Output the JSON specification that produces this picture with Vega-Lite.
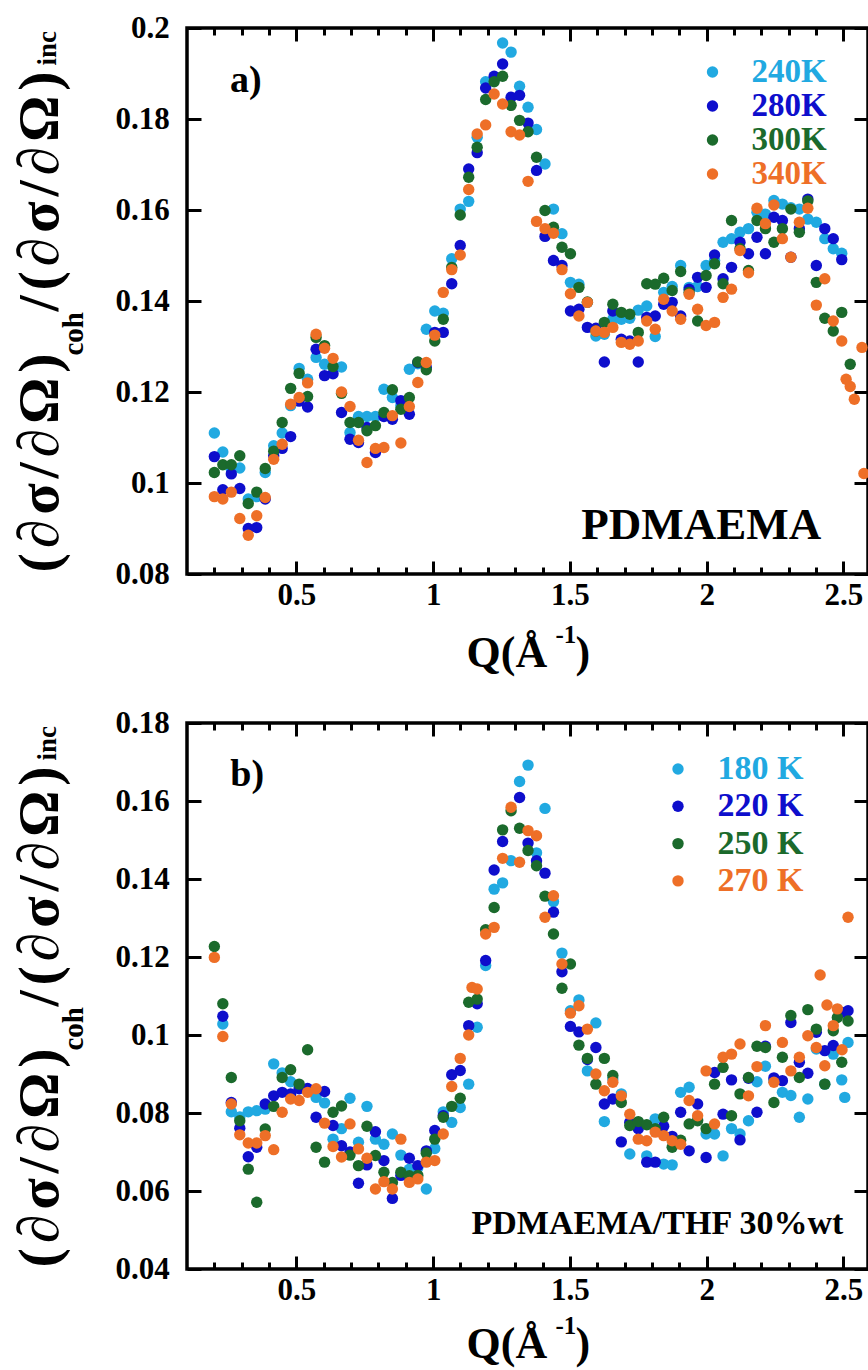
{
"$schema": "https://vega.github.io/schema/vega-lite/v6.json",
"padding": {"left": 9, "top": 10, "right": 0, "bottom": 0},
"bounds": "flush",
"spacing": 149,
"resolve": {"scale": {"color": "independent"}},
"config": {
  "view": {"stroke": "black", "strokeWidth": 3.5},
  "axis": {"labelFont": "Liberation Serif", "labelFontWeight": "bold", "labelFontSize": 31, "labelColor": "black", "titleFont": "Liberation Serif", "titleFontWeight": "bold", "titleColor": "black", "tickColor": "black", "tickWidth": 3, "domain": false, "grid": false, "labelFlush": false, "labelOverlap": false},
  "text": {"font": "Liberation Serif", "fontWeight": "bold", "color": "black"}
},
"vconcat": [
{
  "width": 681, "height": 546,
  "data": {"values": [
{"s":"240K","q":0.200,"v":0.1110},{"s":"240K","q":0.231,"v":0.1068},{"s":"240K","q":0.262,"v":0.1030},{"s":"240K","q":0.293,"v":0.1033},{"s":"240K","q":0.324,"v":0.0965},{"s":"240K","q":0.355,"v":0.0970},{"s":"240K","q":0.386,"v":0.1023},{"s":"240K","q":0.417,"v":0.1082},{"s":"240K","q":0.448,"v":0.1110},{"s":"240K","q":0.479,"v":0.1170},{"s":"240K","q":0.510,"v":0.1252},{"s":"240K","q":0.541,"v":0.1228},{"s":"240K","q":0.572,"v":0.1276},{"s":"240K","q":0.603,"v":0.1261},{"s":"240K","q":0.634,"v":0.1254},{"s":"240K","q":0.665,"v":0.1255},{"s":"240K","q":0.696,"v":0.1111},{"s":"240K","q":0.727,"v":0.1146},{"s":"240K","q":0.758,"v":0.1146},{"s":"240K","q":0.789,"v":0.1146},{"s":"240K","q":0.820,"v":0.1206},{"s":"240K","q":0.851,"v":0.1188},{"s":"240K","q":0.882,"v":0.1170},{"s":"240K","q":0.913,"v":0.1250},{"s":"240K","q":0.944,"v":0.1262},{"s":"240K","q":0.975,"v":0.1338},{"s":"240K","q":1.006,"v":0.1378},{"s":"240K","q":1.037,"v":0.1373},{"s":"240K","q":1.068,"v":0.1493},{"s":"240K","q":1.099,"v":0.1602},{"s":"240K","q":1.130,"v":0.1619},{"s":"240K","q":1.161,"v":0.1760},{"s":"240K","q":1.192,"v":0.1882},{"s":"240K","q":1.223,"v":0.1885},{"s":"240K","q":1.254,"v":0.1967},{"s":"240K","q":1.285,"v":0.1947},{"s":"240K","q":1.316,"v":0.1872},{"s":"240K","q":1.347,"v":0.1826},{"s":"240K","q":1.378,"v":0.1777},{"s":"240K","q":1.409,"v":0.1701},{"s":"240K","q":1.440,"v":0.1602},{"s":"240K","q":1.471,"v":0.1548},{"s":"240K","q":1.502,"v":0.1441},{"s":"240K","q":1.533,"v":0.1437},{"s":"240K","q":1.564,"v":0.1397},{"s":"240K","q":1.595,"v":0.1323},{"s":"240K","q":1.626,"v":0.1327},{"s":"240K","q":1.657,"v":0.1360},{"s":"240K","q":1.688,"v":0.1360},{"s":"240K","q":1.719,"v":0.1362},{"s":"240K","q":1.750,"v":0.1380},{"s":"240K","q":1.781,"v":0.1389},{"s":"240K","q":1.812,"v":0.1322},{"s":"240K","q":1.843,"v":0.1419},{"s":"240K","q":1.874,"v":0.1432},{"s":"240K","q":1.905,"v":0.1478},{"s":"240K","q":1.936,"v":0.1430},{"s":"240K","q":1.967,"v":0.1432},{"s":"240K","q":1.998,"v":0.1478},{"s":"240K","q":2.029,"v":0.1489},{"s":"240K","q":2.060,"v":0.1529},{"s":"240K","q":2.091,"v":0.1537},{"s":"240K","q":2.122,"v":0.1551},{"s":"240K","q":2.153,"v":0.1559},{"s":"240K","q":2.184,"v":0.1595},{"s":"240K","q":2.215,"v":0.1591},{"s":"240K","q":2.246,"v":0.1621},{"s":"240K","q":2.277,"v":0.1613},{"s":"240K","q":2.308,"v":0.1605},{"s":"240K","q":2.339,"v":0.1602},{"s":"240K","q":2.370,"v":0.1580},{"s":"240K","q":2.401,"v":0.1573},{"s":"240K","q":2.432,"v":0.1537},{"s":"240K","q":2.463,"v":0.1515},{"s":"240K","q":2.494,"v":0.1505},
{"s":"280K","q":0.200,"v":0.1058},{"s":"280K","q":0.231,"v":0.0985},{"s":"280K","q":0.262,"v":0.1020},{"s":"280K","q":0.293,"v":0.0988},{"s":"280K","q":0.324,"v":0.0900},{"s":"280K","q":0.355,"v":0.0902},{"s":"280K","q":0.386,"v":0.0965},{"s":"280K","q":0.417,"v":0.1060},{"s":"280K","q":0.448,"v":0.1076},{"s":"280K","q":0.479,"v":0.1102},{"s":"280K","q":0.510,"v":0.1180},{"s":"280K","q":0.541,"v":0.1167},{"s":"280K","q":0.572,"v":0.1294},{"s":"280K","q":0.603,"v":0.1236},{"s":"280K","q":0.634,"v":0.1240},{"s":"280K","q":0.665,"v":0.1155},{"s":"280K","q":0.696,"v":0.1096},{"s":"280K","q":0.727,"v":0.1089},{"s":"280K","q":0.758,"v":0.1122},{"s":"280K","q":0.789,"v":0.1067},{"s":"280K","q":0.820,"v":0.1146},{"s":"280K","q":0.851,"v":0.1140},{"s":"280K","q":0.882,"v":0.1181},{"s":"280K","q":0.913,"v":0.1151},{"s":"280K","q":0.944,"v":0.1265},{"s":"280K","q":0.975,"v":0.1254},{"s":"280K","q":1.006,"v":0.1331},{"s":"280K","q":1.037,"v":0.1331},{"s":"280K","q":1.068,"v":0.1438},{"s":"280K","q":1.099,"v":0.1522},{"s":"280K","q":1.130,"v":0.1690},{"s":"280K","q":1.161,"v":0.1726},{"s":"280K","q":1.192,"v":0.1868},{"s":"280K","q":1.223,"v":0.1894},{"s":"280K","q":1.254,"v":0.1921},{"s":"280K","q":1.285,"v":0.1848},{"s":"280K","q":1.316,"v":0.1852},{"s":"280K","q":1.347,"v":0.1791},{"s":"280K","q":1.378,"v":0.1687},{"s":"280K","q":1.409,"v":0.1542},{"s":"280K","q":1.440,"v":0.1489},{"s":"280K","q":1.471,"v":0.1478},{"s":"280K","q":1.502,"v":0.1378},{"s":"280K","q":1.533,"v":0.1382},{"s":"280K","q":1.564,"v":0.1342},{"s":"280K","q":1.595,"v":0.1340},{"s":"280K","q":1.626,"v":0.1266},{"s":"280K","q":1.657,"v":0.1378},{"s":"280K","q":1.688,"v":0.1316},{"s":"280K","q":1.719,"v":0.1312},{"s":"280K","q":1.750,"v":0.1266},{"s":"280K","q":1.781,"v":0.1364},{"s":"280K","q":1.812,"v":0.1367},{"s":"280K","q":1.843,"v":0.1393},{"s":"280K","q":1.874,"v":0.1397},{"s":"280K","q":1.905,"v":0.1367},{"s":"280K","q":1.936,"v":0.1426},{"s":"280K","q":1.967,"v":0.1452},{"s":"280K","q":1.998,"v":0.1430},{"s":"280K","q":2.029,"v":0.1501},{"s":"280K","q":2.060,"v":0.1449},{"s":"280K","q":2.091,"v":0.1474},{"s":"280K","q":2.122,"v":0.1529},{"s":"280K","q":2.153,"v":0.1504},{"s":"280K","q":2.184,"v":0.1540},{"s":"280K","q":2.215,"v":0.1504},{"s":"280K","q":2.246,"v":0.1584},{"s":"280K","q":2.277,"v":0.1577},{"s":"280K","q":2.308,"v":0.1496},{"s":"280K","q":2.339,"v":0.1559},{"s":"280K","q":2.370,"v":0.1624},{"s":"280K","q":2.401,"v":0.1478},{"s":"280K","q":2.432,"v":0.1559},{"s":"280K","q":2.463,"v":0.1537},{"s":"280K","q":2.494,"v":0.1491},
{"s":"300K","q":0.200,"v":0.1023},{"s":"300K","q":0.231,"v":0.1040},{"s":"300K","q":0.262,"v":0.1040},{"s":"300K","q":0.293,"v":0.1060},{"s":"300K","q":0.324,"v":0.0955},{"s":"300K","q":0.355,"v":0.0980},{"s":"300K","q":0.386,"v":0.1032},{"s":"300K","q":0.417,"v":0.1070},{"s":"300K","q":0.448,"v":0.1133},{"s":"300K","q":0.479,"v":0.1208},{"s":"300K","q":0.510,"v":0.1241},{"s":"300K","q":0.541,"v":0.1190},{"s":"300K","q":0.572,"v":0.1320},{"s":"300K","q":0.603,"v":0.1302},{"s":"300K","q":0.634,"v":0.1256},{"s":"300K","q":0.665,"v":0.1197},{"s":"300K","q":0.696,"v":0.1133},{"s":"300K","q":0.727,"v":0.1133},{"s":"300K","q":0.758,"v":0.1115},{"s":"300K","q":0.789,"v":0.1126},{"s":"300K","q":0.820,"v":0.1155},{"s":"300K","q":0.851,"v":0.1205},{"s":"300K","q":0.882,"v":0.1162},{"s":"300K","q":0.913,"v":0.1188},{"s":"300K","q":0.944,"v":0.1266},{"s":"300K","q":0.975,"v":0.1249},{"s":"300K","q":1.006,"v":0.1312},{"s":"300K","q":1.037,"v":0.1360},{"s":"300K","q":1.068,"v":0.1474},{"s":"300K","q":1.099,"v":0.1589},{"s":"300K","q":1.130,"v":0.1672},{"s":"300K","q":1.161,"v":0.1738},{"s":"300K","q":1.192,"v":0.1843},{"s":"300K","q":1.223,"v":0.1882},{"s":"300K","q":1.254,"v":0.1894},{"s":"300K","q":1.285,"v":0.1830},{"s":"300K","q":1.316,"v":0.1797},{"s":"300K","q":1.347,"v":0.1772},{"s":"300K","q":1.378,"v":0.1716},{"s":"300K","q":1.409,"v":0.1599},{"s":"300K","q":1.440,"v":0.1562},{"s":"300K","q":1.471,"v":0.1518},{"s":"300K","q":1.502,"v":0.1504},{"s":"300K","q":1.533,"v":0.1430},{"s":"300K","q":1.564,"v":0.1398},{"s":"300K","q":1.595,"v":0.1334},{"s":"300K","q":1.626,"v":0.1353},{"s":"300K","q":1.657,"v":0.1393},{"s":"300K","q":1.688,"v":0.1375},{"s":"300K","q":1.719,"v":0.1371},{"s":"300K","q":1.750,"v":0.1331},{"s":"300K","q":1.781,"v":0.1438},{"s":"300K","q":1.812,"v":0.1437},{"s":"300K","q":1.843,"v":0.1450},{"s":"300K","q":1.874,"v":0.1423},{"s":"300K","q":1.905,"v":0.1465},{"s":"300K","q":1.936,"v":0.1419},{"s":"300K","q":1.967,"v":0.1356},{"s":"300K","q":1.998,"v":0.1456},{"s":"300K","q":2.029,"v":0.1482},{"s":"300K","q":2.060,"v":0.1438},{"s":"300K","q":2.091,"v":0.1577},{"s":"300K","q":2.122,"v":0.1515},{"s":"300K","q":2.153,"v":0.1467},{"s":"300K","q":2.184,"v":0.1577},{"s":"300K","q":2.215,"v":0.1559},{"s":"300K","q":2.246,"v":0.1529},{"s":"300K","q":2.277,"v":0.1559},{"s":"300K","q":2.308,"v":0.1602},{"s":"300K","q":2.339,"v":0.1551},{"s":"300K","q":2.370,"v":0.1620},{"s":"300K","q":2.401,"v":0.1441},{"s":"300K","q":2.432,"v":0.1362},{"s":"300K","q":2.463,"v":0.1334},{"s":"300K","q":2.494,"v":0.1375},{"s":"300K","q":2.525,"v":0.1261},
{"s":"340K","q":0.200,"v":0.0970},{"s":"340K","q":0.231,"v":0.0965},{"s":"340K","q":0.262,"v":0.0980},{"s":"340K","q":0.293,"v":0.0922},{"s":"340K","q":0.324,"v":0.0885},{"s":"340K","q":0.355,"v":0.0928},{"s":"340K","q":0.386,"v":0.0968},{"s":"340K","q":0.417,"v":0.1052},{"s":"340K","q":0.448,"v":0.1085},{"s":"340K","q":0.479,"v":0.1173},{"s":"340K","q":0.510,"v":0.1188},{"s":"340K","q":0.541,"v":0.1220},{"s":"340K","q":0.572,"v":0.1327},{"s":"340K","q":0.603,"v":0.1296},{"s":"340K","q":0.634,"v":0.1274},{"s":"340K","q":0.665,"v":0.1200},{"s":"340K","q":0.696,"v":0.1168},{"s":"340K","q":0.727,"v":0.1094},{"s":"340K","q":0.758,"v":0.1045},{"s":"340K","q":0.789,"v":0.1076},{"s":"340K","q":0.820,"v":0.1078},{"s":"340K","q":0.851,"v":0.1148},{"s":"340K","q":0.882,"v":0.1088},{"s":"340K","q":0.913,"v":0.1168},{"s":"340K","q":0.944,"v":0.1221},{"s":"340K","q":0.975,"v":0.1265},{"s":"340K","q":1.006,"v":0.1325},{"s":"340K","q":1.037,"v":0.1419},{"s":"340K","q":1.068,"v":0.1469},{"s":"340K","q":1.099,"v":0.1501},{"s":"340K","q":1.130,"v":0.1645},{"s":"340K","q":1.161,"v":0.1767},{"s":"340K","q":1.192,"v":0.1787},{"s":"340K","q":1.223,"v":0.1855},{"s":"340K","q":1.254,"v":0.1833},{"s":"340K","q":1.285,"v":0.1772},{"s":"340K","q":1.316,"v":0.1765},{"s":"340K","q":1.347,"v":0.1663},{"s":"340K","q":1.378,"v":0.1575},{"s":"340K","q":1.409,"v":0.1559},{"s":"340K","q":1.440,"v":0.1549},{"s":"340K","q":1.471,"v":0.1469},{"s":"340K","q":1.502,"v":0.1416},{"s":"340K","q":1.533,"v":0.1367},{"s":"340K","q":1.564,"v":0.1397},{"s":"340K","q":1.595,"v":0.1334},{"s":"340K","q":1.626,"v":0.1331},{"s":"340K","q":1.657,"v":0.1342},{"s":"340K","q":1.688,"v":0.1309},{"s":"340K","q":1.719,"v":0.1305},{"s":"340K","q":1.750,"v":0.1312},{"s":"340K","q":1.781,"v":0.1356},{"s":"340K","q":1.812,"v":0.1338},{"s":"340K","q":1.843,"v":0.1404},{"s":"340K","q":1.874,"v":0.1378},{"s":"340K","q":1.905,"v":0.1360},{"s":"340K","q":1.936,"v":0.1415},{"s":"340K","q":1.967,"v":0.1382},{"s":"340K","q":1.998,"v":0.1346},{"s":"340K","q":2.029,"v":0.1353},{"s":"340K","q":2.060,"v":0.1408},{"s":"340K","q":2.091,"v":0.1426},{"s":"340K","q":2.122,"v":0.1511},{"s":"340K","q":2.153,"v":0.1462},{"s":"340K","q":2.184,"v":0.1604},{"s":"340K","q":2.215,"v":0.1570},{"s":"340K","q":2.246,"v":0.1611},{"s":"340K","q":2.277,"v":0.1537},{"s":"340K","q":2.308,"v":0.1496},{"s":"340K","q":2.339,"v":0.1573},{"s":"340K","q":2.370,"v":0.1604},{"s":"340K","q":2.401,"v":0.1391},{"s":"340K","q":2.432,"v":0.1449},{"s":"340K","q":2.463,"v":0.1356},{"s":"340K","q":2.494,"v":0.1312},{"s":"340K","q":2.510,"v":0.1228},{"s":"340K","q":2.525,"v":0.1212},{"s":"340K","q":2.540,"v":0.1184},{"s":"340K","q":2.568,"v":0.1298},{"s":"340K","q":2.575,"v":0.1021}
  ]},
  "resolve": {"axis": {"x": "independent", "y": "independent"}},
  "layer": [
    {"mark": {"type": "circle", "size": 130, "opacity": 1},
     "encoding": {
       "x": {"field": "q", "type": "quantitative", "scale": {"domain": [0.1, 2.59], "nice": false, "zero": false},
             "axis": {"orient": "bottom", "values": [0.5, 1, 1.5, 2, 2.5], "format": "~g", "tickSize": -13, "labelPadding": 19.5, "title": "Q(Å", "titleFontSize": 44, "titleAngle": 0, "titleAlign": "left", "titleBaseline": "alphabetic", "titleX": 279, "titleY": 92}},
       "y": {"field": "v", "type": "quantitative", "scale": {"domain": [0.08, 0.2], "nice": false, "zero": false},
             "axis": {"orient": "left", "values": [0.08, 0.1, 0.12, 0.14, 0.16, 0.18, 0.2], "format": "~g", "tickSize": -14, "labelPadding": 31.7, "title": "(\u200a∂\u200aσ\u200a/\u200a∂\u200aΩ\u200a)", "titleFontSize": 58, "titleAngle": 270, "titleAlign": "left", "titleBaseline": "alphabetic", "titleX": -130, "titleY": 544}},
       "color": {"field": "s", "type": "nominal",
                 "scale": {"domain": ["240K", "280K", "300K", "340K"], "range": ["#21A9E1", "#0E0ECC", "#1B6A2C", "#EE6F27"]},
                 "legend": {"title": null, "orient": "none", "legendX": 509, "legendY": 27.5, "padding": 0, "symbolType": "circle", "symbolSize": 130, "symbolOpacity": 1, "symbolStrokeWidth": 0, "labelFont": "Liberation Serif", "labelFontWeight": "bold", "labelFontSize": 33, "labelOffset": 22.6, "rowPadding": -5,
                            "encode": {"labels": {"update": {"fill": {"signal": "['#21A9E1','#0E0ECC','#1B6A2C','#EE6F27'][indexof(['240K','280K','300K','340K'], datum.value)]"}}}}}}
     }},
    {"mark": {"type": "point", "opacity": 0},
     "encoding": {
       "x": {"field": "q", "type": "quantitative", "scale": {"domain": [0.1, 2.59], "nice": false, "zero": false},
             "axis": {"orient": "top", "values": [0.5, 1, 1.5, 2, 2.5], "tickSize": -13, "labels": false, "title": null}},
       "y": {"field": "v", "type": "quantitative", "scale": {"domain": [0.08, 0.2], "nice": false, "zero": false},
             "axis": {"orient": "right", "values": [0.08, 0.1, 0.12, 0.14, 0.16, 0.18, 0.2], "tickSize": -14, "labels": false, "title": null}}
     }},
    {"mark": {"type": "point", "opacity": 0},
     "encoding": {
       "x": {"field": "q", "type": "quantitative", "scale": {"domain": [0.1, 2.59], "nice": false, "zero": false},
             "axis": {"orient": "bottom", "values": [0.2, 0.3, 0.4, 0.6, 0.7, 0.8, 0.9, 1.1, 1.2, 1.3, 1.4, 1.6, 1.7, 1.8, 1.9, 2.1, 2.2, 2.3, 2.4], "tickSize": -7, "labels": false, "title": "-1", "titleFontSize": 25, "titleAngle": 0, "titleAlign": "left", "titleBaseline": "alphabetic", "titleX": 368, "titleY": 68}},
       "y": {"field": "v", "type": "quantitative", "scale": {"domain": [0.08, 0.2], "nice": false, "zero": false},
             "axis": {"orient": "left", "ticks": false, "labels": false, "title": "coh", "titleFontSize": 29, "titleAngle": 270, "titleAlign": "left", "titleBaseline": "alphabetic", "titleX": -105, "titleY": 327}}
     }},
    {"mark": {"type": "point", "opacity": 0},
     "encoding": {
       "x": {"field": "q", "type": "quantitative", "scale": {"domain": [0.1, 2.59], "nice": false, "zero": false},
             "axis": {"orient": "top", "values": [0.2, 0.3, 0.4, 0.6, 0.7, 0.8, 0.9, 1.1, 1.2, 1.3, 1.4, 1.6, 1.7, 1.8, 1.9, 2.1, 2.2, 2.3, 2.4], "tickSize": -7, "labels": false, "title": null}},
       "y": {"field": "v", "type": "quantitative", "scale": {"domain": [0.08, 0.2], "nice": false, "zero": false},
             "axis": {"orient": "left", "ticks": false, "labels": false, "title": "/\u200a(\u200a∂\u200aσ\u200a/\u200a∂\u200aΩ\u200a)", "titleFontSize": 58, "titleAngle": 270, "titleAlign": "left", "titleBaseline": "alphabetic", "titleX": -130, "titleY": 283}}
     }},
    {"mark": {"type": "point", "opacity": 0},
     "encoding": {
       "x": {"field": "q", "type": "quantitative", "scale": {"domain": [0.1, 2.59], "nice": false, "zero": false},
             "axis": {"orient": "bottom", "ticks": false, "labels": false, "title": ")", "titleFontSize": 44, "titleAngle": 0, "titleAlign": "left", "titleBaseline": "alphabetic", "titleX": 388, "titleY": 92}},
       "y": {"field": "v", "type": "quantitative", "scale": {"domain": [0.08, 0.2], "nice": false, "zero": false},
             "axis": {"orient": "left", "ticks": false, "labels": false, "title": "inc", "titleFontSize": 27, "titleAngle": 270, "titleAlign": "left", "titleBaseline": "alphabetic", "titleX": -132, "titleY": 37}}
     }},
    {"data": {"values": [{"t": "a)"}]},
     "mark": {"type": "text", "fontSize": 38, "align": "center", "baseline": "alphabetic"},
     "encoding": {
       "text": {"field": "t"},
       "x": {"datum": 0.315, "type": "quantitative", "scale": {"domain": [0.1, 2.59], "nice": false, "zero": false}, "axis": null},
       "y": {"datum": 0.1859, "type": "quantitative", "scale": {"domain": [0.08, 0.2], "nice": false, "zero": false}, "axis": null}
     }},
    {"data": {"values": [{"t": "PDMAEMA"}]},
     "mark": {"type": "text", "fontSize": 45, "align": "center", "baseline": "alphabetic"},
     "encoding": {
       "text": {"field": "t"},
       "x": {"datum": 1.98, "type": "quantitative", "scale": {"domain": [0.1, 2.59], "nice": false, "zero": false}, "axis": null},
       "y": {"datum": 0.0877, "type": "quantitative", "scale": {"domain": [0.08, 0.2], "nice": false, "zero": false}, "axis": null}
     }}
  ]
},
{
  "width": 681, "height": 546,
  "data": {"values": [
{"s":"180 K","q":0.231,"v":0.1028},{"s":"180 K","q":0.262,"v":0.0803},{"s":"180 K","q":0.293,"v":0.0790},{"s":"180 K","q":0.324,"v":0.0803},{"s":"180 K","q":0.355,"v":0.0806},{"s":"180 K","q":0.386,"v":0.0810},{"s":"180 K","q":0.417,"v":0.0926},{"s":"180 K","q":0.448,"v":0.0903},{"s":"180 K","q":0.479,"v":0.0880},{"s":"180 K","q":0.510,"v":0.0870},{"s":"180 K","q":0.541,"v":0.0860},{"s":"180 K","q":0.572,"v":0.0840},{"s":"180 K","q":0.603,"v":0.0826},{"s":"180 K","q":0.634,"v":0.0733},{"s":"180 K","q":0.665,"v":0.0760},{"s":"180 K","q":0.696,"v":0.0838},{"s":"180 K","q":0.727,"v":0.0725},{"s":"180 K","q":0.758,"v":0.0817},{"s":"180 K","q":0.789,"v":0.0733},{"s":"180 K","q":0.820,"v":0.0720},{"s":"180 K","q":0.851,"v":0.0746},{"s":"180 K","q":0.882,"v":0.0692},{"s":"180 K","q":0.913,"v":0.0656},{"s":"180 K","q":0.944,"v":0.0660},{"s":"180 K","q":0.975,"v":0.0605},{"s":"180 K","q":1.006,"v":0.0709},{"s":"180 K","q":1.037,"v":0.0803},{"s":"180 K","q":1.068,"v":0.0776},{"s":"180 K","q":1.099,"v":0.0814},{"s":"180 K","q":1.130,"v":0.0874},{"s":"180 K","q":1.161,"v":0.1020},{"s":"180 K","q":1.192,"v":0.1178},{"s":"180 K","q":1.223,"v":0.1374},{"s":"180 K","q":1.254,"v":0.1390},{"s":"180 K","q":1.285,"v":0.1447},{"s":"180 K","q":1.316,"v":0.1650},{"s":"180 K","q":1.347,"v":0.1692},{"s":"180 K","q":1.378,"v":0.1467},{"s":"180 K","q":1.409,"v":0.1581},{"s":"180 K","q":1.440,"v":0.1342},{"s":"180 K","q":1.471,"v":0.1210},{"s":"180 K","q":1.502,"v":0.1062},{"s":"180 K","q":1.533,"v":0.1090},{"s":"180 K","q":1.564,"v":0.0908},{"s":"180 K","q":1.595,"v":0.1031},{"s":"180 K","q":1.626,"v":0.0778},{"s":"180 K","q":1.657,"v":0.0887},{"s":"180 K","q":1.688,"v":0.0849},{"s":"180 K","q":1.719,"v":0.0695},{"s":"180 K","q":1.750,"v":0.0776},{"s":"180 K","q":1.781,"v":0.0690},{"s":"180 K","q":1.812,"v":0.0785},{"s":"180 K","q":1.843,"v":0.0669},{"s":"180 K","q":1.874,"v":0.0667},{"s":"180 K","q":1.905,"v":0.0853},{"s":"180 K","q":1.936,"v":0.0866},{"s":"180 K","q":1.967,"v":0.0783},{"s":"180 K","q":1.998,"v":0.0746},{"s":"180 K","q":2.029,"v":0.0746},{"s":"180 K","q":2.060,"v":0.0690},{"s":"180 K","q":2.091,"v":0.0760},{"s":"180 K","q":2.122,"v":0.0746},{"s":"180 K","q":2.153,"v":0.0780},{"s":"180 K","q":2.184,"v":0.0880},{"s":"180 K","q":2.215,"v":0.0920},{"s":"180 K","q":2.246,"v":0.0883},{"s":"180 K","q":2.277,"v":0.0853},{"s":"180 K","q":2.308,"v":0.0845},{"s":"180 K","q":2.339,"v":0.0789},{"s":"180 K","q":2.370,"v":0.0836},{"s":"180 K","q":2.401,"v":0.0964},{"s":"180 K","q":2.432,"v":0.0874},{"s":"180 K","q":2.463,"v":0.0951},{"s":"180 K","q":2.494,"v":0.0885},{"s":"180 K","q":2.505,"v":0.0840},{"s":"180 K","q":2.517,"v":0.0981},
{"s":"220 K","q":0.231,"v":0.1048},{"s":"220 K","q":0.262,"v":0.0827},{"s":"220 K","q":0.293,"v":0.0761},{"s":"220 K","q":0.324,"v":0.0688},{"s":"220 K","q":0.355,"v":0.0712},{"s":"220 K","q":0.386,"v":0.0823},{"s":"220 K","q":0.417,"v":0.0844},{"s":"220 K","q":0.448,"v":0.0853},{"s":"220 K","q":0.479,"v":0.0849},{"s":"220 K","q":0.510,"v":0.0862},{"s":"220 K","q":0.541,"v":0.0863},{"s":"220 K","q":0.572,"v":0.0789},{"s":"220 K","q":0.603,"v":0.0855},{"s":"220 K","q":0.634,"v":0.0768},{"s":"220 K","q":0.665,"v":0.0716},{"s":"220 K","q":0.696,"v":0.0700},{"s":"220 K","q":0.727,"v":0.0620},{"s":"220 K","q":0.758,"v":0.0667},{"s":"220 K","q":0.789,"v":0.0752},{"s":"220 K","q":0.820,"v":0.0678},{"s":"220 K","q":0.851,"v":0.0581},{"s":"220 K","q":0.882,"v":0.0640},{"s":"220 K","q":0.913,"v":0.0684},{"s":"220 K","q":0.944,"v":0.0665},{"s":"220 K","q":0.975,"v":0.0703},{"s":"220 K","q":1.006,"v":0.0755},{"s":"220 K","q":1.037,"v":0.0793},{"s":"220 K","q":1.068,"v":0.0898},{"s":"220 K","q":1.099,"v":0.0909},{"s":"220 K","q":1.130,"v":0.1024},{"s":"220 K","q":1.161,"v":0.1080},{"s":"220 K","q":1.192,"v":0.1191},{"s":"220 K","q":1.223,"v":0.1423},{"s":"220 K","q":1.254,"v":0.1496},{"s":"220 K","q":1.316,"v":0.1609},{"s":"220 K","q":1.347,"v":0.1492},{"s":"220 K","q":1.378,"v":0.1447},{"s":"220 K","q":1.409,"v":0.1415},{"s":"220 K","q":1.440,"v":0.1315},{"s":"220 K","q":1.471,"v":0.1162},{"s":"220 K","q":1.502,"v":0.1022},{"s":"220 K","q":1.533,"v":0.1008},{"s":"220 K","q":1.564,"v":0.0937},{"s":"220 K","q":1.595,"v":0.0968},{"s":"220 K","q":1.626,"v":0.0823},{"s":"220 K","q":1.657,"v":0.0836},{"s":"220 K","q":1.688,"v":0.0726},{"s":"220 K","q":1.719,"v":0.0776},{"s":"220 K","q":1.750,"v":0.0760},{"s":"220 K","q":1.781,"v":0.0674},{"s":"220 K","q":1.812,"v":0.0674},{"s":"220 K","q":1.843,"v":0.0766},{"s":"220 K","q":1.874,"v":0.0740},{"s":"220 K","q":1.905,"v":0.0802},{"s":"220 K","q":1.936,"v":0.0703},{"s":"220 K","q":1.967,"v":0.0823},{"s":"220 K","q":1.998,"v":0.0686},{"s":"220 K","q":2.029,"v":0.0904},{"s":"220 K","q":2.060,"v":0.0797},{"s":"220 K","q":2.091,"v":0.0885},{"s":"220 K","q":2.122,"v":0.0731},{"s":"220 K","q":2.153,"v":0.0889},{"s":"220 K","q":2.184,"v":0.0802},{"s":"220 K","q":2.215,"v":0.0971},{"s":"220 K","q":2.246,"v":0.0890},{"s":"220 K","q":2.277,"v":0.0883},{"s":"220 K","q":2.308,"v":0.1032},{"s":"220 K","q":2.339,"v":0.0930},{"s":"220 K","q":2.370,"v":0.0902},{"s":"220 K","q":2.401,"v":0.1007},{"s":"220 K","q":2.432,"v":0.0960},{"s":"220 K","q":2.463,"v":0.0973},{"s":"220 K","q":2.494,"v":0.1058},{"s":"220 K","q":2.517,"v":0.1062},
{"s":"250 K","q":0.200,"v":0.1227},{"s":"250 K","q":0.231,"v":0.1080},{"s":"250 K","q":0.262,"v":0.0891},{"s":"250 K","q":0.293,"v":0.0780},{"s":"250 K","q":0.324,"v":0.0656},{"s":"250 K","q":0.355,"v":0.0571},{"s":"250 K","q":0.386,"v":0.0759},{"s":"250 K","q":0.417,"v":0.0817},{"s":"250 K","q":0.448,"v":0.0891},{"s":"250 K","q":0.479,"v":0.0911},{"s":"250 K","q":0.510,"v":0.0874},{"s":"250 K","q":0.541,"v":0.0962},{"s":"250 K","q":0.572,"v":0.0712},{"s":"250 K","q":0.603,"v":0.0674},{"s":"250 K","q":0.634,"v":0.0802},{"s":"250 K","q":0.665,"v":0.0818},{"s":"250 K","q":0.696,"v":0.0692},{"s":"250 K","q":0.727,"v":0.0665},{"s":"250 K","q":0.758,"v":0.0766},{"s":"250 K","q":0.789,"v":0.0691},{"s":"250 K","q":0.820,"v":0.0648},{"s":"250 K","q":0.851,"v":0.0622},{"s":"250 K","q":0.882,"v":0.0648},{"s":"250 K","q":0.913,"v":0.0639},{"s":"250 K","q":0.944,"v":0.0640},{"s":"250 K","q":0.975,"v":0.0697},{"s":"250 K","q":1.006,"v":0.0733},{"s":"250 K","q":1.037,"v":0.0789},{"s":"250 K","q":1.068,"v":0.0817},{"s":"250 K","q":1.099,"v":0.0838},{"s":"250 K","q":1.130,"v":0.1084},{"s":"250 K","q":1.161,"v":0.1092},{"s":"250 K","q":1.192,"v":0.1270},{"s":"250 K","q":1.223,"v":0.1327},{"s":"250 K","q":1.254,"v":0.1526},{"s":"250 K","q":1.285,"v":0.1575},{"s":"250 K","q":1.316,"v":0.1530},{"s":"250 K","q":1.347,"v":0.1473},{"s":"250 K","q":1.378,"v":0.1434},{"s":"250 K","q":1.409,"v":0.1356},{"s":"250 K","q":1.440,"v":0.1259},{"s":"250 K","q":1.471,"v":0.1120},{"s":"250 K","q":1.502,"v":0.1182},{"s":"250 K","q":1.533,"v":0.0974},{"s":"250 K","q":1.564,"v":0.0940},{"s":"250 K","q":1.595,"v":0.0874},{"s":"250 K","q":1.626,"v":0.0940},{"s":"250 K","q":1.657,"v":0.0896},{"s":"250 K","q":1.688,"v":0.0827},{"s":"250 K","q":1.719,"v":0.0768},{"s":"250 K","q":1.750,"v":0.0778},{"s":"250 K","q":1.781,"v":0.0770},{"s":"250 K","q":1.812,"v":0.0760},{"s":"250 K","q":1.843,"v":0.0789},{"s":"250 K","q":1.874,"v":0.0712},{"s":"250 K","q":1.905,"v":0.0730},{"s":"250 K","q":1.936,"v":0.0772},{"s":"250 K","q":1.967,"v":0.0780},{"s":"250 K","q":1.998,"v":0.0760},{"s":"250 K","q":2.029,"v":0.0874},{"s":"250 K","q":2.060,"v":0.0917},{"s":"250 K","q":2.091,"v":0.0793},{"s":"250 K","q":2.122,"v":0.0849},{"s":"250 K","q":2.153,"v":0.0891},{"s":"250 K","q":2.184,"v":0.0971},{"s":"250 K","q":2.215,"v":0.0968},{"s":"250 K","q":2.246,"v":0.0827},{"s":"250 K","q":2.277,"v":0.0943},{"s":"250 K","q":2.308,"v":0.1050},{"s":"250 K","q":2.339,"v":0.0891},{"s":"250 K","q":2.370,"v":0.1065},{"s":"250 K","q":2.401,"v":0.1015},{"s":"250 K","q":2.432,"v":0.0874},{"s":"250 K","q":2.463,"v":0.1011},{"s":"250 K","q":2.478,"v":0.1045},{"s":"250 K","q":2.494,"v":0.0930},{"s":"250 K","q":2.517,"v":0.1036},
{"s":"270 K","q":0.200,"v":0.1199},{"s":"270 K","q":0.231,"v":0.0996},{"s":"270 K","q":0.262,"v":0.0823},{"s":"270 K","q":0.293,"v":0.0744},{"s":"270 K","q":0.324,"v":0.0723},{"s":"270 K","q":0.355,"v":0.0723},{"s":"270 K","q":0.386,"v":0.0742},{"s":"270 K","q":0.417,"v":0.0706},{"s":"270 K","q":0.448,"v":0.0802},{"s":"270 K","q":0.479,"v":0.0836},{"s":"270 K","q":0.510,"v":0.0832},{"s":"270 K","q":0.541,"v":0.0853},{"s":"270 K","q":0.572,"v":0.0862},{"s":"270 K","q":0.603,"v":0.0774},{"s":"270 K","q":0.634,"v":0.0714},{"s":"270 K","q":0.665,"v":0.0687},{"s":"270 K","q":0.696,"v":0.0772},{"s":"270 K","q":0.727,"v":0.0708},{"s":"270 K","q":0.758,"v":0.0684},{"s":"270 K","q":0.789,"v":0.0605},{"s":"270 K","q":0.820,"v":0.0624},{"s":"270 K","q":0.851,"v":0.0605},{"s":"270 K","q":0.882,"v":0.0733},{"s":"270 K","q":0.913,"v":0.0622},{"s":"270 K","q":0.944,"v":0.0631},{"s":"270 K","q":0.975,"v":0.0674},{"s":"270 K","q":1.006,"v":0.0678},{"s":"270 K","q":1.037,"v":0.0746},{"s":"270 K","q":1.068,"v":0.0868},{"s":"270 K","q":1.099,"v":0.0940},{"s":"270 K","q":1.130,"v":0.1000},{"s":"270 K","q":1.142,"v":0.1122},{"s":"270 K","q":1.161,"v":0.1118},{"s":"270 K","q":1.192,"v":0.1259},{"s":"270 K","q":1.223,"v":0.1276},{"s":"270 K","q":1.254,"v":0.1453},{"s":"270 K","q":1.285,"v":0.1584},{"s":"270 K","q":1.316,"v":0.1443},{"s":"270 K","q":1.347,"v":0.1524},{"s":"270 K","q":1.378,"v":0.1511},{"s":"270 K","q":1.409,"v":0.1302},{"s":"270 K","q":1.440,"v":0.1357},{"s":"270 K","q":1.471,"v":0.1182},{"s":"270 K","q":1.502,"v":0.1056},{"s":"270 K","q":1.533,"v":0.1075},{"s":"270 K","q":1.564,"v":0.1015},{"s":"270 K","q":1.595,"v":0.0900},{"s":"270 K","q":1.626,"v":0.0857},{"s":"270 K","q":1.657,"v":0.0879},{"s":"270 K","q":1.688,"v":0.0844},{"s":"270 K","q":1.719,"v":0.0797},{"s":"270 K","q":1.750,"v":0.0733},{"s":"270 K","q":1.781,"v":0.0729},{"s":"270 K","q":1.812,"v":0.0751},{"s":"270 K","q":1.843,"v":0.0742},{"s":"270 K","q":1.874,"v":0.0729},{"s":"270 K","q":1.905,"v":0.0720},{"s":"270 K","q":1.936,"v":0.0832},{"s":"270 K","q":1.967,"v":0.0793},{"s":"270 K","q":1.998,"v":0.0908},{"s":"270 K","q":2.029,"v":0.0772},{"s":"270 K","q":2.060,"v":0.0943},{"s":"270 K","q":2.091,"v":0.0951},{"s":"270 K","q":2.122,"v":0.0977},{"s":"270 K","q":2.153,"v":0.0844},{"s":"270 K","q":2.184,"v":0.0919},{"s":"270 K","q":2.215,"v":0.1024},{"s":"270 K","q":2.246,"v":0.0879},{"s":"270 K","q":2.277,"v":0.0981},{"s":"270 K","q":2.308,"v":0.0908},{"s":"270 K","q":2.339,"v":0.0943},{"s":"270 K","q":2.370,"v":0.0998},{"s":"270 K","q":2.401,"v":0.0968},{"s":"270 K","q":2.415,"v":0.1154},{"s":"270 K","q":2.432,"v":0.0921},{"s":"270 K","q":2.440,"v":0.1077},{"s":"270 K","q":2.463,"v":0.1024},{"s":"270 K","q":2.478,"v":0.1067},{"s":"270 K","q":2.495,"v":0.0962},{"s":"270 K","q":2.517,"v":0.1302}
  ]},
  "resolve": {"axis": {"x": "independent", "y": "independent"}},
  "layer": [
    {"mark": {"type": "circle", "size": 130, "opacity": 1},
     "encoding": {
       "x": {"field": "q", "type": "quantitative", "scale": {"domain": [0.1, 2.59], "nice": false, "zero": false},
             "axis": {"orient": "bottom", "values": [0.5, 1, 1.5, 2, 2.5], "format": "~g", "tickSize": -13, "labelPadding": 19.5, "title": "Q(Å", "titleFontSize": 44, "titleAngle": 0, "titleAlign": "left", "titleBaseline": "alphabetic", "titleX": 279, "titleY": 88}},
       "y": {"field": "v", "type": "quantitative", "scale": {"domain": [0.04, 0.18], "nice": false, "zero": false},
             "axis": {"orient": "left", "values": [0.04, 0.06, 0.08, 0.1, 0.12, 0.14, 0.16, 0.18], "format": "~g", "tickSize": -14, "labelPadding": 31.7, "title": "(\u200a∂\u200aσ\u200a/\u200a∂\u200aΩ\u200a)", "titleFontSize": 58, "titleAngle": 270, "titleAlign": "left", "titleBaseline": "alphabetic", "titleX": -130, "titleY": 544}},
       "color": {"field": "s", "type": "nominal",
                 "scale": {"domain": ["180 K", "220 K", "250 K", "270 K"], "range": ["#21A9E1", "#0E0ECC", "#1B6A2C", "#EE6F27"]},
                 "legend": {"title": null, "orient": "none", "legendX": 474, "legendY": 29, "padding": 0, "symbolType": "circle", "symbolSize": 130, "symbolOpacity": 1, "symbolStrokeWidth": 0, "labelFont": "Liberation Serif", "labelFontWeight": "bold", "labelFontSize": 34, "labelOffset": 22.6, "rowPadding": 3.3,
                            "encode": {"labels": {"update": {"fill": {"signal": "['#21A9E1','#0E0ECC','#1B6A2C','#EE6F27'][indexof(['180 K','220 K','250 K','270 K'], datum.value)]"}}}}}}
     }},
    {"mark": {"type": "point", "opacity": 0},
     "encoding": {
       "x": {"field": "q", "type": "quantitative", "scale": {"domain": [0.1, 2.59], "nice": false, "zero": false},
             "axis": {"orient": "top", "values": [0.5, 1, 1.5, 2, 2.5], "tickSize": -13, "labels": false, "title": null}},
       "y": {"field": "v", "type": "quantitative", "scale": {"domain": [0.04, 0.18], "nice": false, "zero": false},
             "axis": {"orient": "right", "values": [0.04, 0.06, 0.08, 0.1, 0.12, 0.14, 0.16, 0.18], "tickSize": -14, "labels": false, "title": null}}
     }},
    {"mark": {"type": "point", "opacity": 0},
     "encoding": {
       "x": {"field": "q", "type": "quantitative", "scale": {"domain": [0.1, 2.59], "nice": false, "zero": false},
             "axis": {"orient": "bottom", "values": [0.2, 0.3, 0.4, 0.6, 0.7, 0.8, 0.9, 1.1, 1.2, 1.3, 1.4, 1.6, 1.7, 1.8, 1.9, 2.1, 2.2, 2.3, 2.4], "tickSize": -7, "labels": false, "title": "-1", "titleFontSize": 25, "titleAngle": 0, "titleAlign": "left", "titleBaseline": "alphabetic", "titleX": 368, "titleY": 64}},
       "y": {"field": "v", "type": "quantitative", "scale": {"domain": [0.04, 0.18], "nice": false, "zero": false},
             "axis": {"orient": "left", "ticks": false, "labels": false, "title": "coh", "titleFontSize": 29, "titleAngle": 270, "titleAlign": "left", "titleBaseline": "alphabetic", "titleX": -105, "titleY": 327}}
     }},
    {"mark": {"type": "point", "opacity": 0},
     "encoding": {
       "x": {"field": "q", "type": "quantitative", "scale": {"domain": [0.1, 2.59], "nice": false, "zero": false},
             "axis": {"orient": "top", "values": [0.2, 0.3, 0.4, 0.6, 0.7, 0.8, 0.9, 1.1, 1.2, 1.3, 1.4, 1.6, 1.7, 1.8, 1.9, 2.1, 2.2, 2.3, 2.4], "tickSize": -7, "labels": false, "title": null}},
       "y": {"field": "v", "type": "quantitative", "scale": {"domain": [0.04, 0.18], "nice": false, "zero": false},
             "axis": {"orient": "left", "ticks": false, "labels": false, "title": "/\u200a(\u200a∂\u200aσ\u200a/\u200a∂\u200aΩ\u200a)", "titleFontSize": 58, "titleAngle": 270, "titleAlign": "left", "titleBaseline": "alphabetic", "titleX": -130, "titleY": 283}}
     }},
    {"mark": {"type": "point", "opacity": 0},
     "encoding": {
       "x": {"field": "q", "type": "quantitative", "scale": {"domain": [0.1, 2.59], "nice": false, "zero": false},
             "axis": {"orient": "bottom", "ticks": false, "labels": false, "title": ")", "titleFontSize": 44, "titleAngle": 0, "titleAlign": "left", "titleBaseline": "alphabetic", "titleX": 388, "titleY": 88}},
       "y": {"field": "v", "type": "quantitative", "scale": {"domain": [0.04, 0.18], "nice": false, "zero": false},
             "axis": {"orient": "left", "ticks": false, "labels": false, "title": "inc", "titleFontSize": 27, "titleAngle": 270, "titleAlign": "left", "titleBaseline": "alphabetic", "titleX": -132, "titleY": 37}}
     }},
    {"data": {"values": [{"t": "b)"}]},
     "mark": {"type": "text", "fontSize": 38, "align": "center", "baseline": "alphabetic"},
     "encoding": {
       "text": {"field": "t"},
       "x": {"datum": 0.32, "type": "quantitative", "scale": {"domain": [0.1, 2.59], "nice": false, "zero": false}, "axis": null},
       "y": {"datum": 0.1638, "type": "quantitative", "scale": {"domain": [0.04, 0.18], "nice": false, "zero": false}, "axis": null}
     }},
    {"data": {"values": [{"t": "PDMAEMA/THF 30%wt"}]},
     "mark": {"type": "text", "fontSize": 34, "align": "center", "baseline": "alphabetic"},
     "encoding": {
       "text": {"field": "t"},
       "x": {"datum": 1.82, "type": "quantitative", "scale": {"domain": [0.1, 2.59], "nice": false, "zero": false}, "axis": null},
       "y": {"datum": 0.049, "type": "quantitative", "scale": {"domain": [0.04, 0.18], "nice": false, "zero": false}, "axis": null}
     }}
  ]
}
]
}
